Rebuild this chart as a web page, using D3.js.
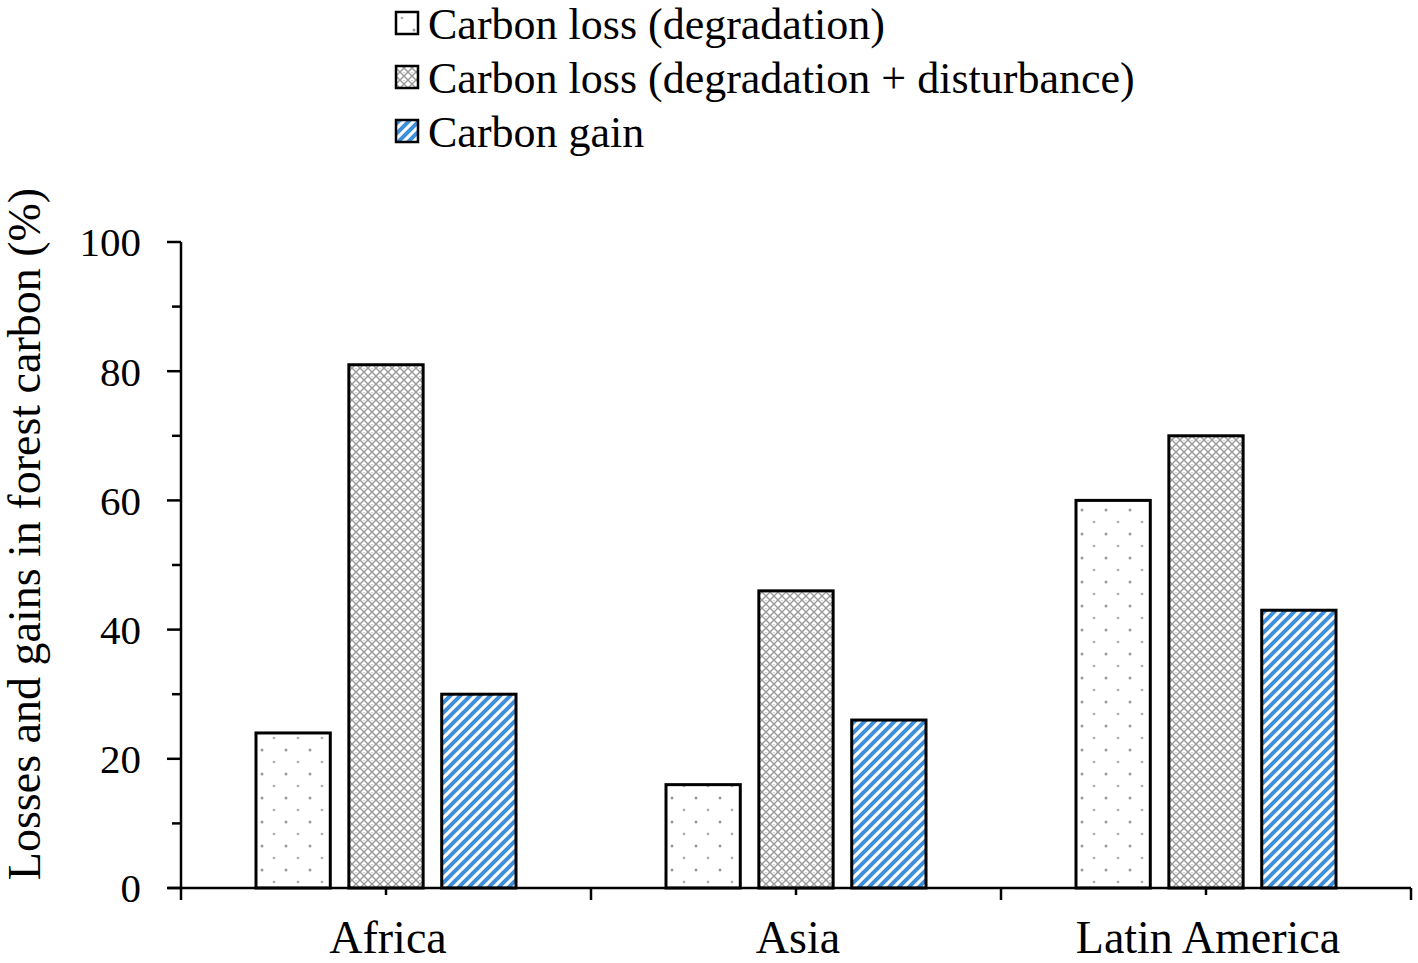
<!DOCTYPE html>
<html><head><meta charset="utf-8">
<script src="https://cdn.jsdelivr.net/npm/d3@7"></script>
<style>body{margin:0;background:#fff}svg{display:block}text{font-family:"Liberation Serif","Times New Roman",serif;fill:#000}</style>
</head><body>
<svg id="c" width="1418" height="963"></svg>
<script>
const categories = ["Africa", "Asia", "Latin America"];
const seriesNames = ["Carbon loss (degradation)", "Carbon loss (degradation + disturbance)", "Carbon gain"];
const lossDegradation = [24, 16, 60];
const lossDegradationDisturbance = [81, 46, 70];
const carbonGain = [30, 26, 43];
const yTicks = [0, 20, 40, 60, 80, 100];
const yTitle = "Losses and gains in forest carbon (%)";

const seriesValues = [lossDegradation, lossDegradationDisturbance, carbonGain];
const patterns = ["p-dots", "p-cross", "p-stripe"];

const svg = d3.select("#c");
const defs = svg.append("defs");
// dots pattern
const pd = defs.append("pattern").attr("id","p-dots").attr("patternUnits","userSpaceOnUse").attr("width",24).attr("height",24);
pd.append("rect").attr("width",24).attr("height",24).attr("fill","#fff");
pd.append("circle").attr("cx",6).attr("cy",6).attr("r",1.5).attr("fill","#999");
pd.append("circle").attr("cx",18).attr("cy",18).attr("r",1.3).attr("fill","#aaa");
// crosshatch pattern
const pc = defs.append("pattern").attr("id","p-cross").attr("patternUnits","userSpaceOnUse").attr("width",8).attr("height",8);
pc.append("rect").attr("width",8).attr("height",8).attr("fill","#fff");
pc.append("path").attr("d","M0,0L8,8M8,0L0,8").attr("stroke","#999").attr("stroke-width",1.4);
pc.append("circle").attr("cx",4).attr("cy",0).attr("r",0.9).attr("fill","#bbb");
// stripes
const ps = defs.append("pattern").attr("id","p-stripe").attr("patternUnits","userSpaceOnUse").attr("width",10).attr("height",10);
ps.append("rect").attr("width",10).attr("height",10).attr("fill","#fff");
ps.append("path").attr("d","M-2.5,2.5L2.5,-2.5M0,10L10,0M7.5,12.5L12.5,7.5").attr("stroke","#3d8fdc").attr("stroke-width",4);

const x0 = 181, x1 = 1411, yTop = 242, yBot = 888;
const x = d3.scaleBand().domain(categories).range([x0, x1]).paddingInner(0).paddingOuter(0);
const xs = d3.scaleBand().domain(d3.range(3)).range([0, 260]).paddingInner(0.2).paddingOuter(0);
const y = d3.scaleLinear().domain([0, 100]).range([yBot, yTop]);

// bars
categories.forEach((c, ci) => {
  const g = svg.append("g").attr("transform", `translate(${x(c) + x.bandwidth()/2 - 130},0)`);
  seriesValues.forEach((vals, si) => {
    g.append("rect").attr("x", xs(si)).attr("width", xs.bandwidth())
      .attr("y", y(vals[ci])).attr("height", y(0) - y(vals[ci]))
      .attr("fill", `url(#${patterns[si]})`).attr("stroke", "#000").attr("stroke-width", 3);
  });
});

// y axis
const ya = svg.append("g");
ya.append("line").attr("x1",x0).attr("x2",x0).attr("y1",yTop).attr("y2",yBot).attr("stroke","#000").attr("stroke-width",2.5);
d3.range(0, 101, 10).forEach(v => {
  const major = v % 20 === 0;
  ya.append("line").attr("x1", major ? 167 : 172).attr("x2", x0).attr("y1", y(v)).attr("y2", y(v)).attr("stroke","#000").attr("stroke-width",2.5);
});
ya.selectAll("text.t").data(yTicks).join("text").attr("class","t")
  .attr("x", 141).attr("y", d => y(d)).attr("dy","0.35em").attr("text-anchor","end")
  .attr("font-size", 41).text(d => d);
svg.append("text").attr("transform", `translate(40,534) rotate(-90)`)
  .attr("text-anchor","middle").attr("font-size",46).text(yTitle);

// x axis
const xa = svg.append("g");
xa.append("line").attr("x1",168).attr("x2",x1).attr("y1",yBot).attr("y2",yBot).attr("stroke","#000").attr("stroke-width",2.5);
categories.forEach(c => {
  xa.append("line").attr("x1",x(c)).attr("x2",x(c)).attr("y1",yBot).attr("y2",yBot+12).attr("stroke","#000").attr("stroke-width",2.5);
  xa.append("line").attr("x1",x(c)+x.bandwidth()/2).attr("x2",x(c)+x.bandwidth()/2).attr("y1",yBot).attr("y2",yBot+7).attr("stroke","#000").attr("stroke-width",2.5);
});
xa.append("line").attr("x1",x1).attr("x2",x1).attr("y1",yBot).attr("y2",yBot+12).attr("stroke","#000").attr("stroke-width",2.5);
xa.selectAll("text.c").data(categories).join("text").attr("class","c")
  .attr("x", d => x(d) + x.bandwidth()/2 + 2).attr("y", 953).attr("text-anchor","middle")
  .attr("font-size", 46).text(d => d);

// legend
const lg = svg.append("g");
seriesNames.forEach((n, i) => {
  const cy = 24 + i*54;
  lg.append("rect").attr("x",396).attr("y",cy-12).attr("width",22).attr("height",22)
    .attr("fill",`url(#${patterns[i]})`).attr("stroke","#000").attr("stroke-width",2.5);
  lg.append("text").attr("x",428).attr("y",cy).attr("dy","0.35em").attr("font-size",44).text(n);
});
</script>
</body></html>
